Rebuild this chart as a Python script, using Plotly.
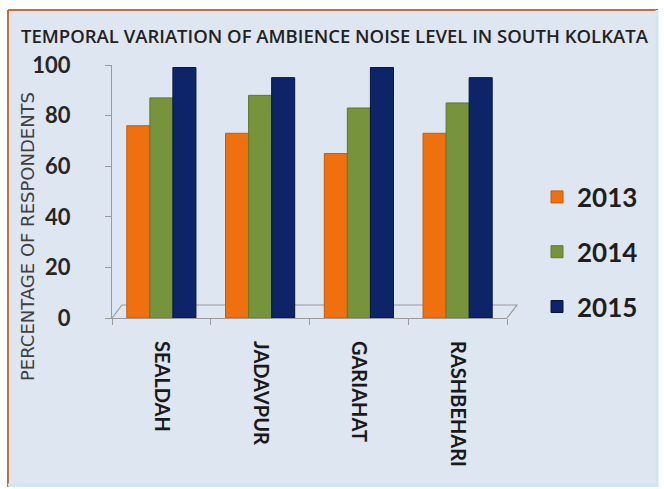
import plotly.graph_objects as go

# Survey results: share of respondents reporting ambient noise, by locality and year
localities = ["SEALDAH", "JADAVPUR", "GARIAHAT", "RASHBEHARI"]
years = ["2013", "2014", "2015"]
pct_2013 = [76, 73, 65, 73]
pct_2014 = [87, 88, 83, 85]
pct_2015 = [99, 95, 99, 95]
y_ticks = [0, 20, 40, 60, 80, 100]

series = [pct_2013, pct_2014, pct_2015]
colors = ["#f07010", "#77933c", "#0d2568"]
edge = ["#c85a08", "#5e7a2c", "#061540"]

W, H = 664, 489
L, R, T, B = 112, 157, 65, 171
pw, ph = W - L - R, H - T - B


def px(x):
    return (x - L) / pw


def py(y):
    return (H - B - y) / ph


fig = go.Figure()
for i, (yr, vals) in enumerate(zip(years, series)):
    fig.add_trace(go.Bar(
        x=localities, y=vals, name=f"<b>{yr}</b>",
        marker=dict(color=colors[i], line=dict(color=edge[i], width=1)),
        legendgroup=yr,
    ))

panel = "#dee6f2"
shapes = [
    # chart panel
    dict(type="rect", xref="paper", yref="paper", layer="below",
         x0=px(8), x1=px(658), y0=py(487), y1=py(10),
         fillcolor=panel, line=dict(width=0)),
    dict(type="line", xref="paper", yref="paper",
         x0=px(8), x1=px(8), y0=py(487), y1=py(10),
         line=dict(color="#c0703a", width=2)),
    dict(type="line", xref="paper", yref="paper",
         x0=px(8), x1=px(658), y0=py(10), y1=py(10),
         line=dict(color="#c0703a", width=2)),
    dict(type="line", xref="paper", yref="paper",
         x0=px(657), x1=px(657), y0=py(487), y1=py(10),
         line=dict(color="#cfe6f8", width=3)),
    dict(type="line", xref="paper", yref="paper",
         x0=px(8), x1=px(658), y0=py(485), y1=py(485),
         line=dict(color="#cfe6f8", width=3)),
    # floor outline
    dict(type="path", xref="paper", yref="paper", layer="below",
         path=f"M {px(112)} {py(318)} L {px(122)} {py(305)} L {px(517)} {py(305)} L {px(507)} {py(318)}",
         line=dict(color="#9a9a9a", width=1.2)),
]

fig.update_layout(
    width=W, height=H,
    margin=dict(l=L, r=R, t=T, b=B),
    paper_bgcolor="white",
    plot_bgcolor="rgba(0,0,0,0)",
    barmode="group", bargap=0.30, bargroupgap=0,
    shapes=shapes,
    showlegend=True,
    legend=dict(
        x=px(537), y=py(252), xanchor="left", yanchor="middle",
        bgcolor="rgba(0,0,0,0)", tracegroupgap=18,
        font=dict(family="Lato, 'DejaVu Sans', sans-serif", size=26, color="#1e1e1e"),
        itemwidth=30,
    ),
    xaxis=dict(
        showline=True, linecolor="#9a9a9a", linewidth=1.2,
        ticks="outside", tickson="boundaries", ticklen=6, tickcolor="#9a9a9a",
        tickangle=90, ticklabelstandoff=18,
        tickfont=dict(family="Lato, 'DejaVu Sans', sans-serif", size=20, color="#1a1a1a", weight="bold"),
        showgrid=False,
    ),
    yaxis=dict(
        range=[0, 100], tickvals=y_ticks,
        showline=True, linecolor="#9a9a9a", linewidth=1.2,
        ticks="outside", ticklen=6, tickcolor="#9a9a9a",
        ticklabelstandoff=30,
        tickfont=dict(family="Lato, 'DejaVu Sans', sans-serif", size=22, color="#262626", weight="bold"),
        showgrid=False, zeroline=False,
    ),
    annotations=[
        dict(text="TEMPORAL VARIATION OF AMBIENCE NOISE LEVEL IN SOUTH KOLKATA",
             xref="paper", yref="paper", x=px(335), y=py(35),
             xanchor="center", yanchor="middle", showarrow=False,
             font=dict(family="'Open Sans', sans-serif", size=18.5, color="#222222", weight=600)),
        dict(text="PERCENTAGE OF RESPONDENTS",
             xref="paper", yref="paper", x=px(27), y=py(237),
             xanchor="center", yanchor="middle", showarrow=False, textangle=-90,
             font=dict(family="'DejaVu Sans', sans-serif", size=18, color="#404040")),
    ],
)

fig.write_html("out.html")
